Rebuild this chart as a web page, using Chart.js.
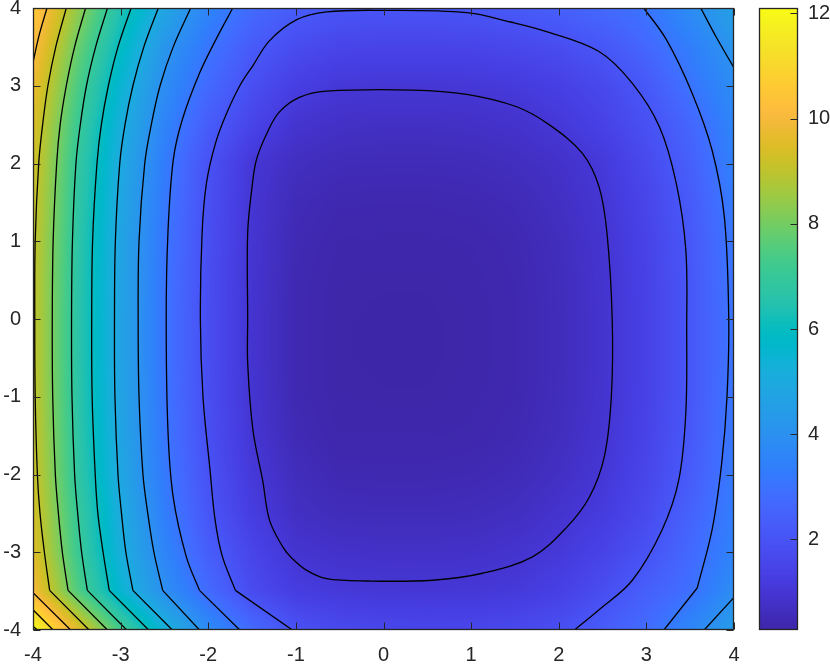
<!DOCTYPE html>
<html>
<head>
<meta charset="utf-8">
<script src="https://cdn.jsdelivr.net/npm/chart.js@4.4.0/dist/chart.umd.min.js"></script>
<style>
html,body{margin:0;padding:0;background:#ffffff;}
#wrap{width:830px;height:666px;}
</style>
</head>
<body>
<div id="wrap"><canvas id="chart" width="830" height="666"></canvas></div>
<script>
// ---------------- DATA ----------------
const xValues = [-4,-3.5,-3,-2.5,-2,-1.5,-1,-0.5,0,0.5,1,1.5,2,2.5,3,3.5,4];
const yValues = [-4,-3.5,-3,-2.5,-2,-1.5,-1,-0.5,0,0.5,1,1.5,2,2.5,3,3.5,4];

// surface values, one row per y (x from -4 to 4)
const zRowM40 = [12.10,9.67,7.30,5.33,3.84,2.77,1.95,1.68,1.60,1.57,1.58,1.66,1.85,2.30,2.80,3.65,4.45];
const zRowM35 = [10.00,7.55,5.52,3.95,2.76,1.75,1.25,1.10,1.06,1.04,1.06,1.12,1.35,1.80,2.40,2.92,3.90];
const zRowM30 = [9.55,7.18,5.19,3.60,2.34,1.52,0.95,0.82,0.78,0.78,0.80,0.90,1.10,1.45,1.95,2.70,3.50];
const zRowM25 = [9.35,7.05,5.04,3.37,2.08,1.25,0.72,0.57,0.55,0.55,0.58,0.67,0.90,1.20,1.68,2.48,3.35];
const zRowM20 = [9.25,6.87,4.86,3.22,1.95,1.10,0.60,0.42,0.41,0.41,0.44,0.52,0.72,1.03,1.55,2.26,3.25];
const zRowM15 = [9.17,6.80,4.78,3.13,1.87,1.00,0.48,0.33,0.33,0.33,0.35,0.43,0.62,0.95,1.47,2.17,3.17];
const zRowM10 = [9.12,6.74,4.73,3.09,1.83,0.95,0.43,0.30,0.29,0.29,0.31,0.39,0.58,0.91,1.42,2.12,3.12];
const zRowM05 = [9.10,6.72,4.71,3.07,1.81,0.93,0.42,0.29,0.28,0.28,0.30,0.38,0.57,0.90,1.41,2.11,3.10];
const zRow00  = [9.10,6.72,4.71,3.07,1.81,0.93,0.42,0.29,0.28,0.28,0.30,0.38,0.57,0.90,1.41,2.11,3.10];
const zRowP05 = [9.11,6.73,4.72,3.08,1.82,0.94,0.43,0.30,0.29,0.29,0.31,0.39,0.58,0.91,1.42,2.12,3.11];
const zRowP10 = [9.15,6.77,4.76,3.11,1.85,0.97,0.46,0.33,0.32,0.32,0.34,0.42,0.61,0.94,1.45,2.15,3.15];
const zRowP15 = [9.22,6.86,4.86,3.19,1.89,0.99,0.52,0.40,0.39,0.39,0.42,0.50,0.70,1.01,1.53,2.24,3.28];
const zRowP20 = [9.32,6.96,4.96,3.31,1.95,1.04,0.66,0.54,0.52,0.52,0.55,0.64,0.80,1.12,1.67,2.40,3.45];
const zRowP25 = [9.50,7.17,5.19,3.57,2.29,1.50,0.93,0.76,0.73,0.73,0.76,0.86,1.07,1.40,1.90,2.60,3.60];
const zRowP30 = [9.80,7.48,5.50,3.88,2.72,1.85,1.30,1.07,1.03,1.03,1.06,1.15,1.33,1.65,2.15,3.03,3.85];
const zRowP35 = [10.20,7.90,5.95,4.20,3.10,2.25,1.75,1.52,1.47,1.47,1.50,1.60,1.78,2.10,2.65,3.35,4.15];
const zRowP40 = [10.70,8.45,6.44,4.81,3.58,2.75,2.30,2.06,2.03,2.04,2.08,2.20,2.42,2.70,3.05,3.85,4.60];

// contour lines (levels 1..12), points [x, y]; curved parts and straight corner segments
const contourL1 = [[-1.55,0],[-1.55,1.11],[-1.50,1.70],[-1.45,2.05],[-1.33,2.39],[-1.19,2.66],[-0.96,2.85],[-0.65,2.93],[0.33,2.945],[0.95,2.89],[1.52,2.73],[1.89,2.50],[2.27,2.13],[2.46,1.70],[2.55,1.11],[2.61,0],[2.60,-1.0],[2.52,-1.77],[2.35,-2.29],[2.09,-2.68],[1.70,-3.06],[1.13,-3.27],[0.56,-3.36],[-0.19,-3.37],[-0.65,-3.34],[-0.88,-3.23],[-1.05,-3.07],[-1.15,-2.93],[-1.30,-2.59],[-1.38,-2.07],[-1.49,-1.43],[-1.55,-0.57],[-1.55,0]];
const contourL2 = [[-1.69,-3.49],[-1.84,-3.05],[-1.92,-2.6],[-1.98,-1.94],[-2.06,-1.0],[-2.09,0],[-2.07,1.11],[-2.02,1.75],[-1.92,2.25],[-1.80,2.62],[-1.64,3.0],[-1.49,3.26],[-1.30,3.58],[-0.99,3.85],[-0.65,3.95],[-0.01,3.97],[0.95,3.94],[1.45,3.82],[1.85,3.70],[2.46,3.44],[2.84,3.03],[3.15,2.47],[3.34,1.75],[3.45,0.89],[3.46,-0.12],[3.45,-1.21],[3.37,-2.07],[3.18,-2.71],[2.84,-3.36],[2.46,-3.74],[2.18,-4]];
const contourL2s = [[-1.04,-4],[-1.69,-3.49]];
const contourL3a = [[-2.10,-3.49],[-2.25,-3.06],[-2.40,-2.29],[-2.46,-1.43],[-2.48,0],[-2.46,1.11],[-2.40,2.04],[-2.30,2.55],[-2.10,3.16],[-1.91,3.60],[-1.72,4]];
const contourL3s = [[-1.64,-4],[-2.10,-3.49]];
const contourL3b = [[2.97,4],[3.23,3.59],[3.52,2.91],[3.75,2.17],[3.89,1.31],[3.94,0],[3.92,-1.0],[3.86,-1.85],[3.75,-2.71],[3.58,-3.46]];
const contourL3t = [[3.58,-3.46],[3.20,-4]];
const contourL4a = [[-2.20,4],[-2.40,3.5],[-2.55,3],[-2.65,2.5],[-2.725,2],[-2.79,1],[-2.80,0],[-2.79,-1],[-2.745,-2],[-2.69,-2.5],[-2.62,-3],[-2.52,-3.49]];
const contourL4s = [[-2.52,-3.49],[-2.10,-4]];
const contourL4b = [[3.62,4],[3.80,3.62],[4,3.23]];
const contourL4c = [[3.66,-4],[4,-3.58]];
const contourL5 = [[-2.57,4],[-2.735,3.5],[-2.86,3],[-2.95,2.5],[-3.01,2],[-3.06,1],[-3.07,0],[-3.065,-1],[-3.03,-2],[-2.99,-2.5],[-2.94,-3],[-2.86,-3.49]];
const contourL5s = [[-2.86,-3.49],[-2.41,-4]];
const contourL6 = [[-2.88,4],[-3.03,3.5],[-3.14,3],[-3.22,2.5],[-3.27,2],[-3.32,1],[-3.33,0],[-3.325,-1],[-3.29,-2],[-3.26,-2.5],[-3.20,-3],[-3.13,-3.49]];
const contourL6s = [[-3.13,-3.49],[-2.68,-4]];
const contourL7 = [[-3.15,4],[-3.285,3.5],[-3.39,3],[-3.46,2.5],[-3.51,2],[-3.55,1],[-3.56,0],[-3.555,-1],[-3.525,-2],[-3.49,-2.5],[-3.445,-3],[-3.38,-3.49]];
const contourL7s = [[-3.38,-3.49],[-2.93,-4]];
const contourL8 = [[-3.40,4],[-3.525,3.5],[-3.62,3],[-3.69,2.5],[-3.73,2],[-3.77,1],[-3.78,0],[-3.775,-1],[-3.745,-2],[-3.71,-2.5],[-3.665,-3],[-3.60,-3.49]];
const contourL8s = [[-3.60,-3.49],[-3.15,-4]];
const contourL9 = [[-3.62,4],[-3.74,3.5],[-3.83,3],[-3.89,2.5],[-3.935,2],[-3.975,1],[-3.98,0],[-3.975,-1],[-3.95,-2],[-3.92,-2.5],[-3.87,-3],[-3.81,-3.49]];
const contourL9s = [[-3.81,-3.49],[-3.36,-4]];
const contourL10a = [[-4,3.3],[-3.93,3.65],[-3.84,4]];
const contourL10b = [[-4,-3.52],[-3.57,-4]];
const contourL11 = [[-4,-3.74],[-3.77,-4]];
const contourL12 = [[-4,-3.95],[-3.95,-4]];

const axisTicks = [-4,-3,-2,-1,0,1,2,3,4];
const colorbarTicks = [2,4,6,8,10,12];

// ---------------- derived tables ----------------
const zRows = [zRowM40,zRowM35,zRowM30,zRowM25,zRowM20,zRowM15,zRowM10,zRowM05,zRow00,
               zRowP05,zRowP10,zRowP15,zRowP20,zRowP25,zRowP30,zRowP35,zRowP40];
const curvedContours = [contourL1,contourL2,contourL3a,contourL3b,contourL4a,contourL4b,
  contourL5,contourL6,contourL7,contourL8,contourL9,contourL10a];
const straightContours = [contourL2s,contourL3s,contourL3t,contourL4s,contourL4c,contourL5s,contourL6s,
  contourL7s,contourL8s,contourL9s,contourL10b,contourL11,contourL12];
let cMin = Infinity, cMax = -Infinity;
zRows.forEach(r => r.forEach(v => { if (v < cMin) cMin = v; if (v > cMax) cMax = v; }));

// MATLAB parula colormap (64 entries)
const PARULA = [
[0.2422,0.1504,0.6603],[0.2504,0.1650,0.7076],[0.2578,0.1818,0.7511],[0.2647,0.1978,0.7952],
[0.2706,0.2147,0.8364],[0.2751,0.2342,0.8710],[0.2783,0.2559,0.8991],[0.2803,0.2782,0.9221],
[0.2813,0.3006,0.9414],[0.2810,0.3228,0.9579],[0.2795,0.3447,0.9717],[0.2760,0.3667,0.9829],
[0.2699,0.3892,0.9906],[0.2602,0.4123,0.9952],[0.2440,0.4358,0.9988],[0.2206,0.4603,0.9973],
[0.1963,0.4847,0.9892],[0.1834,0.5074,0.9798],[0.1786,0.5289,0.9682],[0.1764,0.5499,0.9520],
[0.1687,0.5703,0.9359],[0.1540,0.5902,0.9218],[0.1460,0.6091,0.9079],[0.1380,0.6276,0.8973],
[0.1248,0.6459,0.8883],[0.1113,0.6635,0.8763],[0.0952,0.6798,0.8598],[0.0689,0.6948,0.8394],
[0.0297,0.7082,0.8163],[0.0036,0.7203,0.7917],[0.0067,0.7312,0.7660],[0.0433,0.7411,0.7394],
[0.0964,0.7500,0.7120],[0.1408,0.7584,0.6842],[0.1717,0.7670,0.6554],[0.1938,0.7758,0.6251],
[0.2161,0.7843,0.5923],[0.2470,0.7918,0.5567],[0.2906,0.7973,0.5188],[0.3406,0.8008,0.4789],
[0.3909,0.8029,0.4354],[0.4456,0.8024,0.3909],[0.5044,0.7993,0.3480],[0.5616,0.7942,0.3045],
[0.6174,0.7876,0.2612],[0.6720,0.7793,0.2227],[0.7242,0.7698,0.1910],[0.7738,0.7598,0.1646],
[0.8203,0.7498,0.1535],[0.8634,0.7406,0.1596],[0.9035,0.7330,0.1774],[0.9393,0.7288,0.2100],
[0.9728,0.7298,0.2394],[0.9956,0.7434,0.2371],[0.9970,0.7659,0.2199],[0.9952,0.7893,0.2028],
[0.9892,0.8136,0.1885],[0.9786,0.8386,0.1766],[0.9676,0.8639,0.1643],[0.9610,0.8890,0.1537],
[0.9597,0.9135,0.1423],[0.9628,0.9373,0.1265],[0.9691,0.9606,0.1064],[0.9769,0.9839,0.0805]];

function parula(t){
  t = Math.min(1, Math.max(0, t));
  const p = t * (PARULA.length - 1);
  const i = Math.min(PARULA.length - 2, Math.floor(p));
  const f = p - i, a = PARULA[i], b = PARULA[i+1];
  return [(a[0]+(b[0]-a[0])*f)*255, (a[1]+(b[1]-a[1])*f)*255, (a[2]+(b[2]-a[2])*f)*255];
}
function findCell(arr, v){
  const n = arr.length;
  if (v <= arr[0]) return [0, 0];
  if (v >= arr[n-1]) return [n-2, 1];
  let i = 0;
  while (i < n-2 && v > arr[i+1]) i++;
  return [i, (v - arr[i]) / (arr[i+1] - arr[i])];
}
function valueAt(xv, yv){
  const cx = findCell(xValues, xv), cy = findCell(yValues, yv);
  const i = cx[0], fx = cx[1], j = cy[0], fy = cy[1];
  const z00 = zRows[j][i], z10 = zRows[j][i+1], z01 = zRows[j+1][i], z11 = zRows[j+1][i+1];
  return z00*(1-fx)*(1-fy) + z10*fx*(1-fy) + z01*(1-fx)*fy + z11*fx*fy;
}

const AX_COLOR = '#262626';
const FONT = {family: '"Liberation Sans", Arial, Helvetica, sans-serif', size: 20};

// heatmap drawn through the x / y scales (smooth shading between grid nodes)
const heatmapPlugin = {
  id: 'heatmap',
  beforeDatasetsDraw(chart){
    const {ctx, chartArea: a, scales} = chart;
    const sx = scales.x, sy = scales.y;
    const L = Math.round(a.left), T = Math.round(a.top);
    const W = Math.round(a.right) - L, H = Math.round(a.bottom) - T;
    const img = ctx.createImageData(W, H);
    const d = img.data;
    const xs = new Float64Array(W);
    for (let i = 0; i < W; i++) xs[i] = sx.getValueForPixel(L + i + 0.5);
    for (let j = 0; j < H; j++){
      const yv = sy.getValueForPixel(T + j + 0.5);
      for (let i = 0; i < W; i++){
        const c = parula((valueAt(xs[i], yv) - cMin) / (cMax - cMin));
        const k = (j*W + i) * 4;
        d[k] = c[0]; d[k+1] = c[1]; d[k+2] = c[2]; d[k+3] = 255;
      }
    }
    ctx.putImageData(img, L, T);
  }
};

// box, inward ticks, colorbar
const framePlugin = {
  id: 'frame',
  afterDraw(chart){
    const {ctx, chartArea: a, scales} = chart;
    const sx = scales.x, sy = scales.y, sc = scales.c;
    const L = Math.round(a.left) + 0.5, R = Math.round(a.right) - 0.5;
    const T = Math.round(a.top) + 0.5, B = Math.round(a.bottom) - 0.5;
    const TL = 7;
    ctx.save();
    ctx.strokeStyle = AX_COLOR;
    ctx.lineWidth = 1;
    ctx.beginPath();
    sx.ticks.forEach(t => {
      const px = Math.round(sx.getPixelForValue(t.value)) + 0.5;
      ctx.moveTo(px, B); ctx.lineTo(px, B - TL);
      ctx.moveTo(px, T); ctx.lineTo(px, T + TL);
    });
    sy.ticks.forEach(t => {
      const py = Math.round(sy.getPixelForValue(t.value)) + 0.5;
      ctx.moveTo(L, py); ctx.lineTo(L + TL, py);
      ctx.moveTo(R, py); ctx.lineTo(R - TL, py);
    });
    ctx.stroke();
    ctx.lineWidth = 1.3;
    ctx.strokeRect(L, T, R - L, B - T);

    // colorbar
    const bl = Math.round(a.right) + 25, br = Math.round(a.right) + 64;
    const ct = Math.round(sc.top), cb = Math.round(sc.bottom);
    for (let py = ct; py < cb; py++){
      const v = sc.getValueForPixel(py + 0.5);
      const c = parula((v - cMin) / (cMax - cMin));
      ctx.fillStyle = 'rgb(' + Math.round(c[0]) + ',' + Math.round(c[1]) + ',' + Math.round(c[2]) + ')';
      ctx.fillRect(bl, py, br - bl, 1);
    }
    ctx.lineWidth = 1;
    ctx.beginPath();
    sc.ticks.forEach(t => {
      const py = Math.round(sc.getPixelForValue(t.value)) + 0.5;
      ctx.moveTo(br - 0.5, py); ctx.lineTo(br - 0.5 - TL, py);
    });
    ctx.stroke();
    ctx.lineWidth = 1.3;
    ctx.strokeRect(bl + 0.5, ct + 0.5, br - bl - 1, cb - ct - 1);
    ctx.restore();
  }
};

function zeroPad(s){ s.paddingTop = 0; s.paddingBottom = 0; s.paddingLeft = 0; s.paddingRight = 0; }

function contourDataset(pts, tension){
  return {
    type: 'scatter',
    showLine: true,
    data: pts.map(p => ({x: p[0], y: p[1]})),
    borderColor: '#000000',
    backgroundColor: '#000000',
    borderWidth: 1.3,
    pointRadius: 0,
    pointHoverRadius: 0,
    tension: tension,
    fill: false
  };
}
const datasets = curvedContours.map(p => contourDataset(p, 0.35))
  .concat(straightContours.map(p => contourDataset(p, 0)));

new Chart(document.getElementById('chart'), {
  type: 'scatter',
  data: {datasets},
  options: {
    responsive: false,
    animation: false,
    devicePixelRatio: 1,
    layout: {padding: {top: 8, left: 0, right: 0, bottom: 0}},
    plugins: {legend: {display: false}, tooltip: {enabled: false}},
    events: [],
    scales: {
      x: {
        type: 'linear', position: 'bottom', min: -4, max: 4,
        grid: {display: false, drawTicks: false},
        border: {display: false},
        afterBuildTicks: s => { s.ticks = axisTicks.map(v => ({value: v})); },
        ticks: {font: FONT, color: AX_COLOR, padding: 13, maxRotation: 0, autoSkip: false},
        afterFit: s => { s.height = 36; zeroPad(s); }
      },
      y: {
        type: 'linear', position: 'left', min: -4, max: 4,
        grid: {display: false, drawTicks: false},
        border: {display: false},
        afterBuildTicks: s => { s.ticks = axisTicks.map(v => ({value: v})); },
        ticks: {font: FONT, color: AX_COLOR, padding: 12, autoSkip: false},
        afterFit: s => { s.width = 33; zeroPad(s); }
      },
      c: {
        type: 'linear', position: 'right', axis: 'y', min: cMin, max: cMax,
        grid: {display: false, drawTicks: false},
        border: {display: false},
        afterBuildTicks: s => { s.ticks = colorbarTicks.map(v => ({value: v})); },
        ticks: {font: FONT, color: AX_COLOR, padding: 74, autoSkip: false},
        afterFit: s => { s.width = 96; zeroPad(s); }
      }
    }
  },
  plugins: [heatmapPlugin, framePlugin]
});
</script>
</body>
</html>
